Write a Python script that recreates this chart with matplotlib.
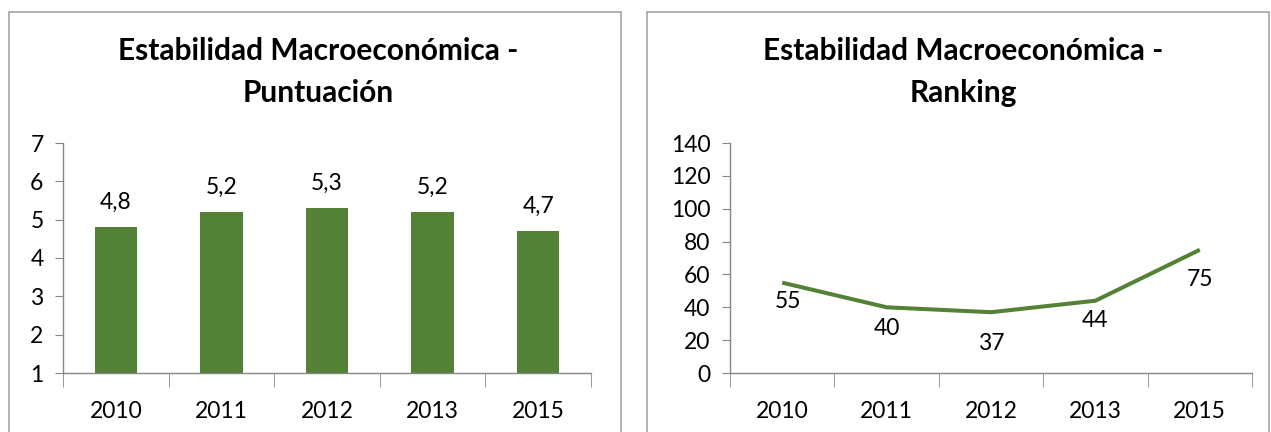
import matplotlib.pyplot as plt
from matplotlib.patches import Rectangle

# datos
anios = ['2010', '2011', '2012', '2013', '2015']
puntuacion = [4.8, 5.2, 5.3, 5.2, 4.7]
ranking = [55, 40, 37, 44, 75]

# desplazamiento vertical de las etiquetas de la linea (pixeles)
desp_etiquetas = [-19, -21, -31, -20, -30]

verde = '#538135'
gris = '#868686'
W, H = 1271, 432
fs = 16.5

plt.rcParams['font.family'] = ['Lato', 'DejaVu Sans']

fig = plt.figure(figsize=(W / 100, H / 100), dpi=100)

def caja(x0, x1, y0, y1):
    # rectangulo en pixeles (y desde arriba)
    return [x0 / W, 1 - y1 / H, (x1 - x0) / W, (y1 - y0) / H]

# bordes de los paneles
for x0, x1 in [(9, 621), (647, 1269)]:
    fig.patches.append(Rectangle((x0 / W, -0.1), (x1 - x0) / W, 1 - 12 / H + 0.1,
                                 transform=fig.transFigure, fill=False,
                                 edgecolor='#A6A6A6', linewidth=1.2))

def estilo(ax):
    for s in ['top', 'right']:
        ax.spines[s].set_visible(False)
    for s in ['left', 'bottom']:
        ax.spines[s].set_color(gris)
        ax.spines[s].set_linewidth(1.0)
    ax.tick_params(axis='y', length=6, color=gris, labelsize=fs, pad=8)
    ax.tick_params(axis='x', length=0, labelsize=fs, pad=20)
    n = len(anios)
    ax.set_xlim(-0.5, n - 0.5)
    ax.set_xticks(range(n))
    ax.set_xticklabels(anios)
    ax.set_xticks([i - 0.5 for i in range(n + 1)], minor=True)
    ax.tick_params(axis='x', which='minor', length=10, color=gris, direction='out')

# grafico de barras
ax1 = fig.add_axes(caja(63, 591, 143, 373))
ax1.bar(range(len(anios)), puntuacion, width=0.4, color=verde)
ax1.set_ylim(1, 7)
ax1.set_yticks(range(1, 8))
estilo(ax1)
for i, v in enumerate(puntuacion):
    ax1.annotate(str(v).replace('.', ','), (i, v), xytext=(0, 25), textcoords='offset pixels',
                 ha='center', va='center', fontsize=fs)
fig.text(318 / W, 1 - 72 / H, 'Estabilidad Macroeconómica -\nPuntuación', ha='center', va='center',
         fontsize=21.5, fontweight='bold', linespacing=1.65)

# grafico de linea
ax2 = fig.add_axes(caja(730, 1252, 143, 373))
ax2.plot(range(len(anios)), ranking, color=verde, linewidth=2.9, solid_capstyle='butt')
ax2.set_ylim(0, 140)
ax2.set_yticks(range(0, 141, 20))
estilo(ax2)
for i, v in enumerate(ranking):
    dx = 6 if i == 0 else 0
    ax2.annotate(str(v), (i, v), xytext=(dx, desp_etiquetas[i]), textcoords='offset pixels',
                 ha='center', va='center', fontsize=fs)
fig.text(963 / W, 1 - 72 / H, 'Estabilidad Macroeconómica -\nRanking', ha='center', va='center',
         fontsize=21.5, fontweight='bold', linespacing=1.65)

fig.savefig('out.png', dpi=100)
